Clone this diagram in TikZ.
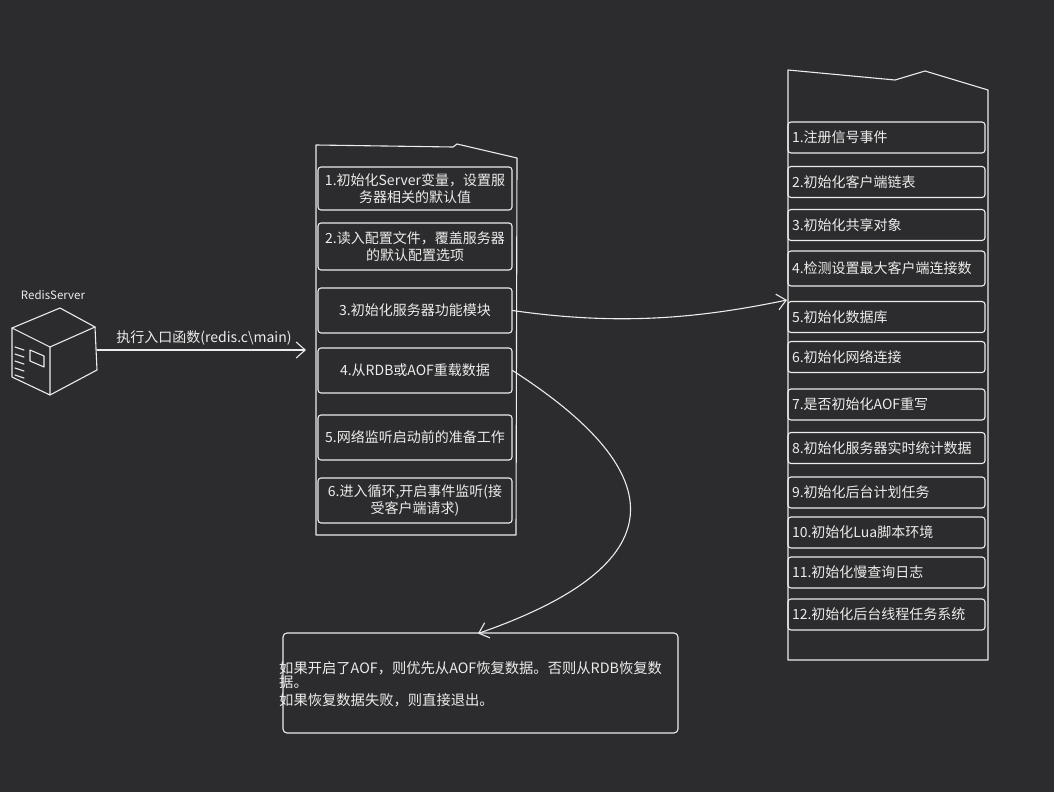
\documentclass[tikz,border=0pt]{standalone}
\usepackage{fontspec}
\setmainfont{Noto Sans CJK SC}
\usetikzlibrary{arrows.meta}
\definecolor{bg}{RGB}{44,44,46}
\definecolor{chalk}{RGB}{236,236,236}
\tikzset{
  chalkline/.style={draw=chalk, line width=1.1pt, line join=round, line cap=round},
  mbox/.style={chalkline, rounded corners=3pt, minimum width=194pt, inner sep=2pt, text width=190pt, align=center, text=chalk, font=\fontsize{14}{17}\selectfont},
  rbox/.style={chalkline, rounded corners=3pt, minimum width=197pt, minimum height=31pt, inner xsep=4pt, text width=189pt, align=left, text=chalk, font=\fontsize{14}{17}\selectfont},
  txt/.style={text=chalk, font=\fontsize{14}{17}\selectfont, inner sep=0pt},
  arr/.style={chalkline, -{Straight Barb[length=9pt,width=16pt,line width=1.1pt]}},
}
\begin{document}
\begin{tikzpicture}[x=1pt,y=-1pt]
\useasboundingbox (0,0) rectangle (1054,792);
\fill[bg] (0,0) rectangle (1054,792);

% server icon
\draw[chalkline] (12,328) -- (60,308) -- (95,327) -- (50,347) -- cycle;
\draw[chalkline] (12,328) -- (12,377) -- (50,395) -- (50,347);
\draw[chalkline] (95,327) -- (97,370) -- (50,395);
\draw[chalkline] (30,350) -- (44,356) -- (44,367) -- (30,361) -- cycle;
\foreach \yy in {347,354,361,368,375} \draw[chalkline] (15,\yy) -- (24,\yy+3);
\node[txt, font=\fontsize{11.5}{13}\selectfont] (srvlabel) at (53,295) {RedisServer};
\coordinate (srv) at (97,350);

% middle frame
\draw[chalkline] (316,145) -- (453,147) -- (457,144) -- (517,158) -- (516,535) -- (316,535) -- cycle;
\node[mbox, minimum height=43pt] (m1) at (415,188.5) {1.初始化Server变量，设置服\\务器相关的默认值};
\node[mbox, minimum height=47pt] (m2) at (415,246.5) {2.读入配置文件，覆盖服务器\\的默认配置选项};
\node[mbox, minimum height=45pt] (m3) at (415,310.5) {3.初始化服务器功能模块};
\node[mbox, minimum height=45pt] (m4) at (415,370.5) {4.从RDB或AOF重载数据};
\node[mbox, minimum height=45pt] (m5) at (415,437.5) {5.网络监听启动前的准备工作};
\node[mbox, minimum height=45pt] (m6) at (415,500.5) {6.进入循环,开启事件监听(接\\受客户端请求)};

% right frame
\draw[chalkline] (788,70) -- (895,80) -- (925,71) -- (988,90) -- (988,660) -- (788,660) -- cycle;
\node[rbox] (r1) at (886.5,137.5) {1.注册信号事件};
\node[rbox] (r2) at (886.5,182) {2.初始化客户端链表};
\node[rbox] (r3) at (886.5,225) {3.初始化共享对象};
\node[rbox, minimum height=35pt] (r4) at (886.5,268.5) {4.检测设置最大客户端连接数};
\node[rbox] (r5) at (886.5,317) {5.初始化数据库};
\node[rbox] (r6) at (886.5,357) {6.初始化网络连接};
\node[rbox] (r7) at (886.5,404.5) {7.是否初始化AOF重写};
\node[rbox] (r8) at (886.5,448) {8.初始化服务器实时统计数据};
\node[rbox] (r9) at (886.5,492.5) {9.初始化后台计划任务};
\node[rbox] (r10) at (886.5,532.5) {10.初始化Lua脚本环境};
\node[rbox] (r11) at (886.5,572.5) {11.初始化慢查询日志};
\node[rbox] (r12) at (886.5,614.5) {12.初始化后台线程任务系统};

% bottom note
\node[chalkline, rounded corners=4pt, minimum width=395pt, minimum height=100pt, inner sep=0pt] (note) at (480.5,683) {};
\node[txt, anchor=west, font=\fontsize{14.3}{17}\selectfont] (n1) at (279,668) {如果开启了AOF，则优先从AOF恢复数据。否则从RDB恢复数};
\node[txt, anchor=west, font=\fontsize{14.3}{17}\selectfont] (n2) at (279,682) {据。};
\node[txt, anchor=west, font=\fontsize{14.3}{17}\selectfont] (n3) at (279,700) {如果恢复数据失败，则直接退出。};
\coordinate (notein) at (478,633.5);
\coordinate (r5in) at (787,300);

% connectors
\draw[arr] (srv) -- (306,350) coordinate (mainin);
\node[txt] (lbl) at (204,338) {执行入口函数(redis.c\textbackslash main)};
\draw[arr] (m3.east) .. controls (620,326) and (700,318) .. (r5in);
\draw[arr] (m4.east) .. controls (675,475) and (675,565) .. (notein);
\end{tikzpicture}
\end{document}
